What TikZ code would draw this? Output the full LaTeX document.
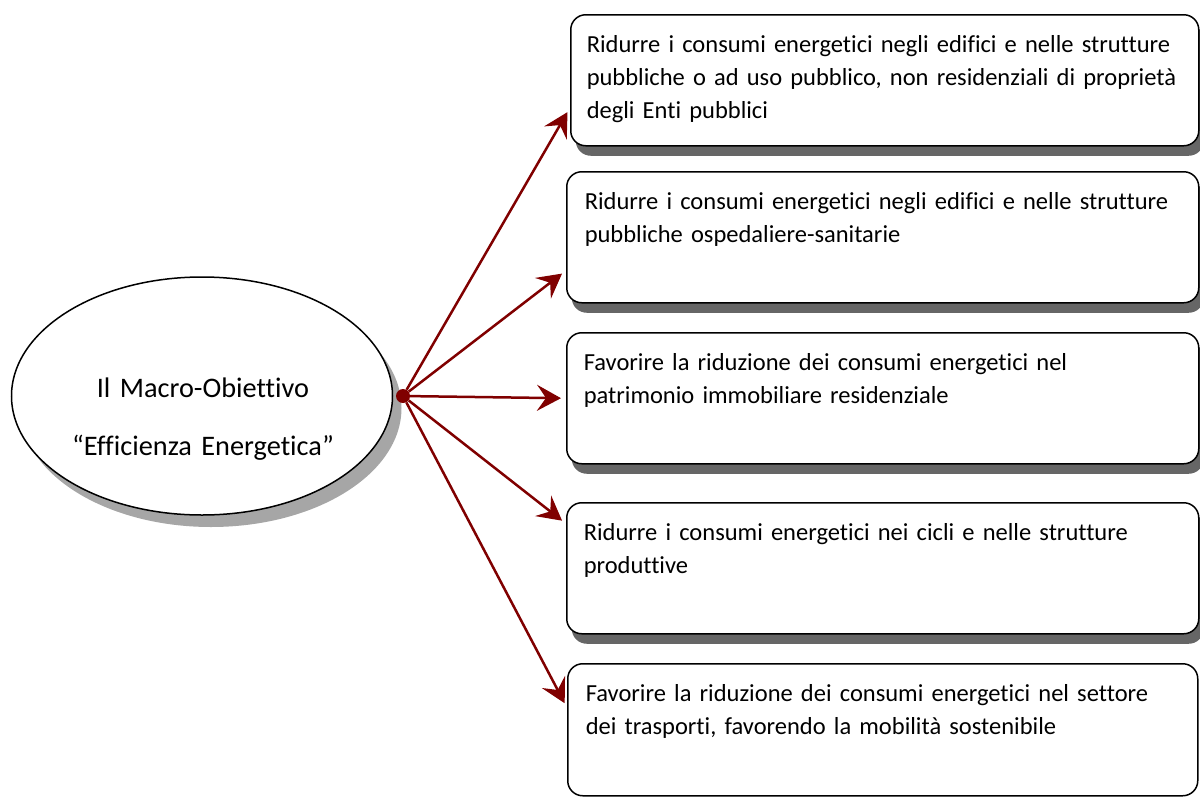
\documentclass[tikz,border=0pt]{standalone}
\usepackage{fontspec}
\setmainfont{Carlito}[Ligatures=NoCommon]
\usetikzlibrary{arrows.meta, shapes.geometric, shadows}
\hyphenpenalty=10000

\definecolor{arrowred}{RGB}{128,0,0}
\definecolor{boxshadow}{RGB}{102,102,102}
\definecolor{ovalshadow}{RGB}{166,166,166}

\tikzset{
	goal/.style={draw, line width=1.5pt, rounded corners=15pt, fill=white,
		anchor=north west, align=left, text width=596pt,
		inner xsep=18pt, inner ysep=0pt, text height=38pt, text depth=93pt},
	shadowed/.style={drop shadow={shadow xshift=5pt, shadow yshift=-10pt,
		fill=boxshadow, opacity=1}},
	arr/.style={draw=arrowred, line width=2.5pt, shorten >=5pt,
		-{Stealth[length=24pt, width=26pt, inset=9pt]}}
}

\begin{document}
\begin{tikzpicture} [
						x=1pt, y=-1pt,
						font=\fontsize{24.5}{33}\selectfont
					]

\useasboundingbox (0,0) rectangle (1200,796);

% macro objective
\node (macro) [ellipse, draw, line width=1.5pt, fill=white,
	minimum width=381pt, minimum height=238pt,
	drop shadow={shadow xshift=9pt, shadow yshift=-12pt, fill=ovalshadow, opacity=1}]
	at (202,396) {};
\node (title) [anchor=base, align=center, text width=340pt,
	font=\fontsize{28.3}{58}\selectfont] at (203,397)
	{Il Macro-Obiettivo\\“Efficienza Energetica”};

% goals
\node (1) [goal, shadowed, inner xsep=16pt] at (570,14)
	{Ridurre i consumi energetici negli edifici e nelle strutture\\
	 pubbliche o ad uso pubblico, non residenziali di proprietà\\
	 degli Enti pubblici};
\node (2) [goal, shadowed] at (566,171)
	{Ridurre i consumi energetici negli edifici e nelle strutture\\
	 pubbliche ospedaliere-sanitarie};
\node (3) [goal, shadowed, text width=598pt, inner xsep=17pt] at (566,332)
	{Favorire la riduzione dei consumi energetici nel\\
	 patrimonio immobiliare residenziale};
\node (4) [goal, shadowed, text width=598pt, inner xsep=17pt] at (566,502)
	{Ridurre i consumi energetici nei cicli e nelle strutture\\
	 produttive};
\node (5) [goal, text width=594pt, inner xsep=18pt, text depth=94pt] at (567,663)
	{Favorire la riduzione dei consumi energetici nel settore\\
	 dei trasporti, favorendo la mobilità sostenibile};

% hub
\node (hub) [circle, fill=arrowred, inner sep=0pt, minimum size=14pt] at (403,396) {};

\path
	(hub) edge [arr] (1.185)
	(hub) edge [arr] (2.186)
	(hub) edge [arr] (3.180)
	(hub) edge [arr] (4.172)
	(hub) edge [arr] (5.176);

\end{tikzpicture}
\end{document}
